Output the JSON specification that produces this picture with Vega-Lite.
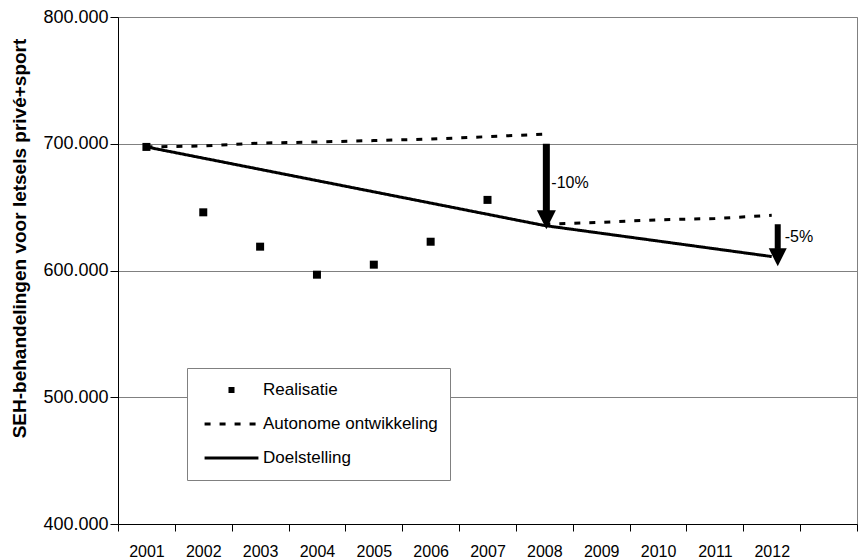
{
  "$schema": "https://vega.github.io/schema/vega-lite/v6.json",
  "width": 739,
  "height": 507,
  "autosize": {"type": "none"},
  "padding": {"left": 118, "top": 17, "right": 5, "bottom": 36},
  "background": "white",
  "datasets": {
    "series": [
      {"series": "Realisatie", "seg": "r", "year": "2001", "value": 697500},
      {"series": "Realisatie", "seg": "r", "year": "2002", "value": 645900},
      {"series": "Realisatie", "seg": "r", "year": "2003", "value": 618800},
      {"series": "Realisatie", "seg": "r", "year": "2004", "value": 596700},
      {"series": "Realisatie", "seg": "r", "year": "2005", "value": 604600},
      {"series": "Realisatie", "seg": "r", "year": "2006", "value": 622700},
      {"series": "Realisatie", "seg": "r", "year": "2007", "value": 655700},
      {"series": "Autonome ontwikkeling", "seg": "a1", "year": "2001", "value": 697500},
      {"series": "Autonome ontwikkeling", "seg": "a1", "year": "2002", "value": 698200},
      {"series": "Autonome ontwikkeling", "seg": "a1", "year": "2003", "value": 700500},
      {"series": "Autonome ontwikkeling", "seg": "a1", "year": "2004", "value": 701400},
      {"series": "Autonome ontwikkeling", "seg": "a1", "year": "2005", "value": 702500},
      {"series": "Autonome ontwikkeling", "seg": "a1", "year": "2006", "value": 703700},
      {"series": "Autonome ontwikkeling", "seg": "a1", "year": "2007", "value": 705600},
      {"series": "Autonome ontwikkeling", "seg": "a1", "year": "2008", "value": 707600},
      {"series": "Autonome ontwikkeling", "seg": "a2", "year": "2008", "value": 636500},
      {"series": "Autonome ontwikkeling", "seg": "a2", "year": "2009", "value": 638000},
      {"series": "Autonome ontwikkeling", "seg": "a2", "year": "2010", "value": 640000},
      {"series": "Autonome ontwikkeling", "seg": "a2", "year": "2011", "value": 641000},
      {"series": "Autonome ontwikkeling", "seg": "a2", "year": "2012", "value": 643500},
      {"series": "Doelstelling", "seg": "d", "year": "2001", "value": 697500},
      {"series": "Doelstelling", "seg": "d", "year": "2008", "value": 635500},
      {"series": "Doelstelling", "seg": "d", "year": "2012", "value": 611000}
    ],
    "arrows": [
      {"id": 1, "year": "2008", "top": 700000, "shaftEnd": 642000, "tip": 632500, "label": "-10%", "labelY": 669300},
      {"id": 2, "year": "2012", "top": 636500, "shaftEnd": 617000, "tip": 603300, "label": "-5%", "labelY": 626700}
    ]
  },
  "encoding": {
    "x": {
      "field": "year",
      "type": "ordinal",
      "scale": {
        "type": "band",
        "domain": ["2001", "2002", "2003", "2004", "2005", "2006", "2007", "2008", "2009", "2010", "2011", "2012", "2013"],
        "paddingInner": 0,
        "paddingOuter": 0
      },
      "axis": {
        "title": null,
        "tickBand": "extent",
        "labelAngle": 0,
        "labelFontSize": 16,
        "labelPadding": 12,
        "tickSize": 7,
        "grid": false,
        "labelExpr": "datum.value == '2013' ? '' : datum.label"
      }
    }
  },
  "layer": [
    {
      "data": {"name": "series"},
      "transform": [{"filter": "datum.series !== 'Realisatie'"}],
      "mark": {"type": "line", "color": "black", "strokeWidth": 3, "strokeCap": "butt"},
      "encoding": {
        "y": {"field": "value", "type": "quantitative", "title": "SEH-behandelingen voor letsels privé+sport", "scale": {"domain": [400000, 800000], "nice": false, "zero": false}, "axis": {"values": [400000, 500000, 600000, 700000, 800000]}},
        "detail": {"field": "seg", "type": "nominal"},
        "strokeDash": {
          "field": "series",
          "type": "nominal",
          "scale": {
            "domain": ["Realisatie", "Autonome ontwikkeling", "Doelstelling"],
            "range": [[1, 0], [6, 9], [1, 0]]
          },
          "legend": {
            "title": null,
            "symbolStrokeWidth": 3,
            "symbolSize": 2900,
            "encode": {"symbols": {
              "enter": {"fill": {"value": "black"}, "stroke": {"value": "black"}, "strokeWidth": {"value": 3}, "opacity": {"value": 1}},
              "update": {"fill": {"value": "black"}, "stroke": {"value": "black"}, "strokeWidth": {"value": 3}, "opacity": {"value": 1}}
            }}
          }
        }
      }
    },
    {
      "data": {"name": "series"},
      "transform": [{"filter": "datum.series === 'Realisatie'"}],
      "mark": {"type": "point", "filled": true, "color": "black", "opacity": 1, "size": 20400},
      "encoding": {
        "y": {"field": "value", "type": "quantitative", "title": "SEH-behandelingen voor letsels privé+sport", "scale": {"domain": [400000, 800000], "nice": false, "zero": false}, "axis": {"values": [400000, 500000, 600000, 700000, 800000]}},
        "shape": {
          "field": "series",
          "type": "nominal",
          "scale": {
            "domain": ["Realisatie", "Autonome ontwikkeling", "Doelstelling"],
            "range": ["M-0.056,-0.056H0.056V0.056H-0.056Z", "stroke", "stroke"]
          },
          "legend": {
            "title": null,
            "symbolStrokeWidth": 3,
            "symbolSize": 2900,
            "encode": {"symbols": {
              "enter": {"fill": {"value": "black"}, "stroke": {"value": "black"}, "strokeWidth": {"value": 3}, "opacity": {"value": 1}},
              "update": {"fill": {"value": "black"}, "stroke": {"value": "black"}, "strokeWidth": {"value": 3}, "opacity": {"value": 1}}
            }}
          }
        }
      }
    },
    {
      "data": {"name": "arrows"},
      "transform": [{"filter": "datum.id === 1"}],
      "layer": [
        {
          "mark": {"type": "rule", "color": "black", "strokeWidth": 7, "strokeCap": "butt", "xOffset": 2},
          "encoding": {
            "y": {"field": "top", "type": "quantitative", "title": "SEH-behandelingen voor letsels privé+sport", "scale": {"domain": [400000, 800000], "nice": false, "zero": false}, "axis": {"values": [400000, 500000, 600000, 700000, 800000]}},
            "y2": {"field": "shaftEnd"}
          }
        },
        {
          "mark": {"type": "point", "shape": "M-1,-1L1,-1L0,1Z", "filled": true, "color": "black", "opacity": 1, "size": 361, "xOffset": 2, "yOffset": -9.5},
          "encoding": {
            "y": {"field": "tip", "type": "quantitative", "title": "SEH-behandelingen voor letsels privé+sport", "scale": {"domain": [400000, 800000], "nice": false, "zero": false}, "axis": {"values": [400000, 500000, 600000, 700000, 800000]}}
          }
        },
        {
          "mark": {"type": "text", "align": "left", "baseline": "middle", "dx": 7, "fontSize": 16, "color": "black"},
          "encoding": {
            "y": {"field": "labelY", "type": "quantitative", "title": "SEH-behandelingen voor letsels privé+sport", "scale": {"domain": [400000, 800000], "nice": false, "zero": false}, "axis": {"values": [400000, 500000, 600000, 700000, 800000]}},
            "text": {"field": "label"}
          }
        }
      ]
    },
    {
      "data": {"name": "arrows"},
      "transform": [{"filter": "datum.id === 2"}],
      "layer": [
        {
          "mark": {"type": "rule", "color": "black", "strokeWidth": 6, "strokeCap": "butt", "xOffset": 6},
          "encoding": {
            "y": {"field": "top", "type": "quantitative", "title": "SEH-behandelingen voor letsels privé+sport", "scale": {"domain": [400000, 800000], "nice": false, "zero": false}, "axis": {"values": [400000, 500000, 600000, 700000, 800000]}},
            "y2": {"field": "shaftEnd"}
          }
        },
        {
          "mark": {"type": "point", "shape": "M-1,-1L1,-1L0,1Z", "filled": true, "color": "black", "opacity": 1, "size": 324, "xOffset": 6, "yOffset": -9},
          "encoding": {
            "y": {"field": "tip", "type": "quantitative", "title": "SEH-behandelingen voor letsels privé+sport", "scale": {"domain": [400000, 800000], "nice": false, "zero": false}, "axis": {"values": [400000, 500000, 600000, 700000, 800000]}}
          }
        },
        {
          "mark": {"type": "text", "align": "left", "baseline": "middle", "dx": 13, "fontSize": 16, "color": "black"},
          "encoding": {
            "y": {"field": "labelY", "type": "quantitative", "title": "SEH-behandelingen voor letsels privé+sport", "scale": {"domain": [400000, 800000], "nice": false, "zero": false}, "axis": {"values": [400000, 500000, 600000, 700000, 800000]}},
            "text": {"field": "label"}
          }
        }
      ]
    }
  ],
  "config": {
    "font": "Liberation Sans",
    "view": {"stroke": "#808080", "strokeWidth": 1},
    "axis": {
      "labelFont": "Liberation Sans",
      "titleFont": "Liberation Sans",
      "labelColor": "black",
      "titleColor": "black",
      "domainColor": "black",
      "tickColor": "black",
      "domainWidth": 1,
      "tickWidth": 1
    },
    "axisY": {
      "labelExpr": "replace(format(datum.value, ','), ',', '.')",
      "labelFontSize": 18,
      "labelPadding": 2,
      "tickSize": 8,
      "grid": true,
      "gridColor": "#808080",
      "gridWidth": 1,
      "titleFontSize": 19,
      "titleFontWeight": "bold",
      "titleX": -99,
      "titleY": 221,
      "titleAlign": "center",
      "titleBaseline": "middle",
      "titleAngle": 270
    },
    "legend": {
      "orient": "none",
      "legendX": 69,
      "legendY": 351,
      "padding": 12,
      "strokeColor": "#808080",
      "fillColor": "white",
      "labelFont": "Liberation Sans",
      "labelFontSize": 17,
      "labelColor": "black",
      "labelOffset": 3,
      "symbolSize": 2900,
      "symbolOffset": 4,
      "clipHeight": 20,
      "rowPadding": 14,
      "labelLimit": 400
    }
  }
}
